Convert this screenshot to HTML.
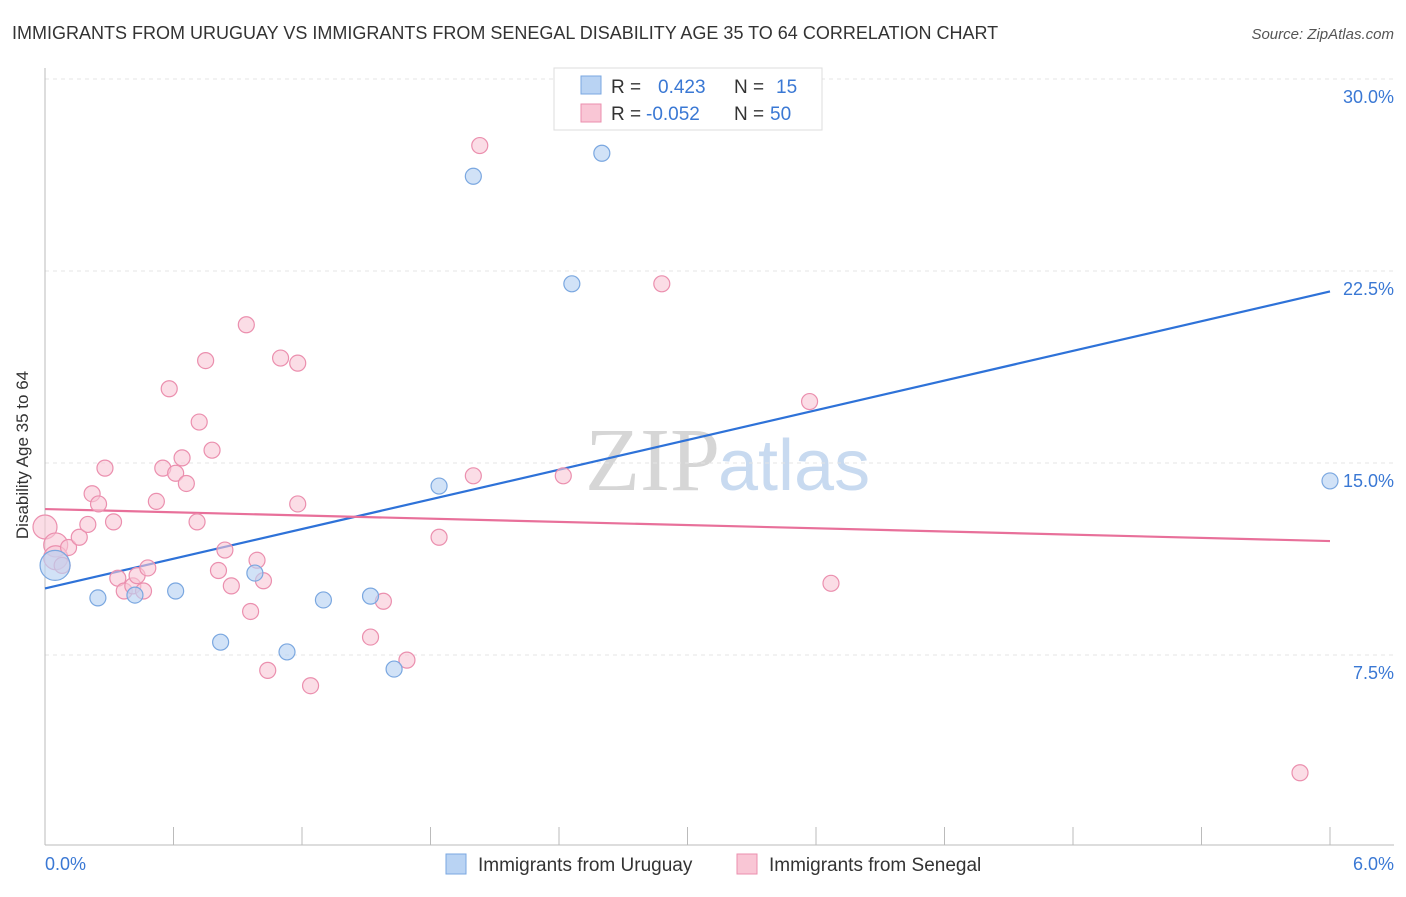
<!DOCTYPE html>
<html><head><meta charset="utf-8"><style>
body{margin:0;background:#fff;font-family:"Liberation Sans",sans-serif;}
</style></head><body>
<svg width="1406" height="892" xmlns="http://www.w3.org/2000/svg">
<text x="12" y="39" font-size="18" fill="#333">IMMIGRANTS FROM URUGUAY VS IMMIGRANTS FROM SENEGAL DISABILITY AGE 35 TO 64 CORRELATION CHART</text>
<text x="1394" y="39" font-size="15" fill="#555" font-style="italic" text-anchor="end">Source: ZipAtlas.com</text>
<text x="720" y="490" font-size="90" fill="#d6d6d6" text-anchor="end" font-family="Liberation Serif,serif">ZIP</text>
<text x="718" y="490" font-size="72" fill="#c8daf0">atlas</text>
<g id="grid"></g>
<g id="axes"></g>
<g id="lines"></g>
<g id="points"></g>
<text x="28" y="455" font-size="17" fill="#333" text-anchor="middle" transform="rotate(-90 28 455)">Disability Age 35 to 64</text>
<text x="45" y="870" font-size="18" fill="#3a78d4">0.0%</text>
<text x="1394" y="870" font-size="18" fill="#3a78d4" text-anchor="end">6.0%</text>
<g>
<rect x="554" y="68" width="268" height="62" fill="#fff" stroke="#ddd"/>
<rect x="581" y="76" width="20" height="18" fill="#b9d3f3" stroke="#7aa7e0"/>
<text x="611" y="93" font-size="19" fill="#333">R = </text><text x="658" y="93" font-size="19" fill="#3a78d4">0.423</text>
<text x="734" y="93" font-size="19" fill="#333">N = </text><text x="776" y="93" font-size="19" fill="#3a78d4">15</text>
<rect x="581" y="104" width="20" height="18" fill="#f9c6d5" stroke="#eb8fae"/>
<text x="611" y="120" font-size="19" fill="#333">R = </text><text x="646" y="120" font-size="19" fill="#3a78d4">-0.052</text>
<text x="734" y="120" font-size="19" fill="#333">N = </text><text x="770" y="120" font-size="19" fill="#3a78d4">50</text>
</g>
<g><rect x="446" y="854" width="20" height="20" fill="#b9d3f3" stroke="#7aa7e0"/><text x="478" y="871" font-size="19" fill="#333">Immigrants from Uruguay</text></g>
<g><rect x="737" y="854" width="20" height="20" fill="#f9c6d5" stroke="#eb8fae"/><text x="769" y="871" font-size="19" fill="#333">Immigrants from Senegal</text></g>
</svg>
<script>
const yTicks=[7.5,15,22.5,30];
const yTickLabels=["7.5%","15.0%","22.5%","30.0%"];
const uruguayX=[0.047,0.247,0.42,0.61,0.82,0.98,1.13,1.30,1.52,1.63,1.84,2.00,2.46,2.60,6.0];
const uruguayY=[11.0,9.73,9.84,10.0,8.0,10.7,7.62,9.65,9.8,6.95,14.1,26.2,22.0,27.1,14.3];
const senegalX=[0,0.05,0.05,0.08,0.11,0.16,0.20,0.22,0.25,0.28,0.32,0.34,0.37,0.41,0.43,0.46,0.48,0.52,0.55,0.58,0.61,0.64,0.66,0.71,0.72,0.75,0.78,0.81,0.84,0.87,0.94,0.96,0.99,1.02,1.04,1.10,1.18,1.18,1.24,1.52,1.58,1.69,1.84,2.00,2.03,2.42,2.88,3.57,3.67,5.86];
const senegalY=[12.5,11.8,11.3,11.0,11.7,12.1,12.6,13.8,13.4,14.8,12.7,10.5,10.0,10.2,10.6,10.0,10.9,13.5,14.8,17.9,14.6,15.2,14.2,12.7,16.6,19.0,15.5,10.8,11.6,10.2,20.4,9.2,11.2,10.4,6.9,19.1,18.9,13.4,6.3,8.2,9.6,7.3,12.1,14.5,27.4,14.5,22.0,17.4,10.3,2.9];
const uruguayTrend=[10.1,21.7];
const senegalTrend=[13.2,11.95];
const X0=45,X1=1330,Y0=847,YS=768/30;
const sx=v=>X0+(X1-X0)*v/6, sy=v=>Y0-v*YS;
const NS="http://www.w3.org/2000/svg";
function mk(parent,tag,attrs){const e=document.createElementNS(NS,tag);for(const k in attrs)e.setAttribute(k,attrs[k]);document.getElementById(parent).appendChild(e);return e;}
yTicks.forEach((t,i)=>{
 let g=mk('grid','line',{x1:X0,x2:1394,y1:sy(t),y2:sy(t),stroke:'#e4e4e4','stroke-dasharray':'4,4'});
 
 
 let tx=mk('grid','text',{x:1394,y:sy(t)+24,'font-size':18,fill:'#3a78d4','text-anchor':'end'});
 tx.textContent=yTickLabels[i];
 
 
});
let ya=mk('axes','line',{x1:X0,x2:X0,y1:68,y2:845,stroke:'#bbb'});


let xa=mk('axes','line',{x1:X0,x2:1394,y1:845,y2:845,stroke:'#bbb'});


for(let i=0;i<=10;i++){let t=mk('axes','line',{x1:sx(i*0.6),x2:sx(i*0.6),y1:827,y2:845,stroke:'#bbb'});
 
 }
let bl=mk('lines','line',{x1:sx(0),y1:sy(uruguayTrend[0]),x2:sx(6),y2:sy(uruguayTrend[1]),stroke:'#2e72d8','stroke-width':2.2});


let pl=mk('lines','line',{x1:sx(0),y1:sy(senegalTrend[0]),x2:sx(6),y2:sy(senegalTrend[1]),stroke:'#e8709a','stroke-width':2.2});


senegalX.forEach((x,i)=>{let c=mk('points','circle',{cx:sx(x),cy:sy(senegalY[i]),r:(i<3?12:8),fill:'#f9c6d5','fill-opacity':0.6,stroke:'#eb8fae','stroke-width':1.2});
 
 });
uruguayX.forEach((x,i)=>{let c=mk('points','circle',{cx:sx(x),cy:sy(uruguayY[i]),r:(i==0?15:8),fill:'#b9d3f3','fill-opacity':0.65,stroke:'#7aa7e0','stroke-width':1.2});
 
 });
</script>
</body></html>
